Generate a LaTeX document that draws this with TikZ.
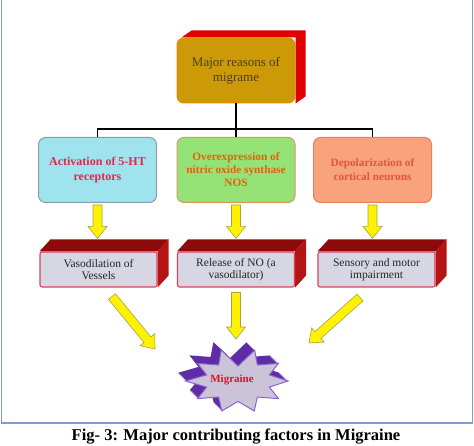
\documentclass[tikz,border=0pt]{standalone}
\usepackage{fontspec}
\setmainfont{Liberation Serif}
\usetikzlibrary{calc,backgrounds}

\definecolor{goldbox}{HTML}{CC9A06}
\definecolor{goldedge}{HTML}{E68A00}
\definecolor{goldtext}{HTML}{4A3F1E}
\definecolor{goldside}{HTML}{E00000}
\definecolor{cyanbox}{HTML}{9FE3EE}
\definecolor{cyanedge}{HTML}{8C9CA8}
\definecolor{actred}{HTML}{E0284A}
\definecolor{greenbox}{HTML}{95E276}
\definecolor{greenedge}{HTML}{D49A5A}
\definecolor{overorange}{HTML}{E2620E}
\definecolor{salmonbox}{HTML}{F9A27E}
\definecolor{salmonedge}{HTML}{E8805A}
\definecolor{depred}{HTML}{E0573A}
\definecolor{effectface}{HTML}{D6D7E3}
\definecolor{effectedge}{HTML}{E0405A}
\definecolor{effecttop}{HTML}{8C0A0A}
\definecolor{effectside}{HTML}{B51414}
\definecolor{yellowedge}{HTML}{A3A34A}
\definecolor{framecol}{HTML}{7F9DCC}
\definecolor{burstside}{HTML}{5E2CA5}
\definecolor{burstface}{HTML}{CBC4D8}
\definecolor{burstedge}{HTML}{8A62D0}
\definecolor{migred}{HTML}{E01020}

% block arrow from #1 to #2
\newcommand{\blockarrow}[2]{%
  \coordinate (hb) at ($(#2)!12pt!(#1)$);
  \filldraw[yblock] ($(#1)!4.5pt!90:(#2)$) -- ($(hb)!4.5pt!-90:(#1)$) -- ($(hb)!9.5pt!-90:(#1)$) -- (#2)
    -- ($(hb)!9.5pt!90:(#1)$) -- ($(hb)!4.5pt!90:(#1)$) -- ($(#1)!4.5pt!-90:(#2)$) -- cycle;
}

% outline of the burst
\newcommand{\burstpath}{(0:1) -- (18:0.66) -- (36:1.0) -- (54:0.66) -- (72:1.05) -- (90:0.68)
  -- (108:1.05) -- (126:0.66) -- (144:1.0) -- (162:0.66) -- (180:1.05) -- (198:0.66)
  -- (216:1.0) -- (234:0.66) -- (252:1.08) -- (270:0.5) -- (288:1.08) -- (306:0.66)
  -- (324:1.0) -- (342:0.66) -- cycle}

\begin{document}
\begin{tikzpicture}[x=1pt,y=-1pt,
  base/.style={rounded corners=7pt, minimum width=118pt, minimum height=65pt, align=center, inner sep=2pt, line width=1pt},
  causebox/.style={base, font=\fontsize{12}{14.5}\selectfont\bfseries},
  effectbox/.style={rectangle, rounded corners=2pt, minimum width=117pt, minimum height=35pt, align=center,
    inner sep=1pt, fill=effectface, draw=effectedge, line width=1.1pt, font=\fontsize{11.5}{12.5}\selectfont, text=black!85},
  yblock/.style={fill=yellow, draw=yellowedge, line width=0.6pt},
  link/.style={draw=black, line width=1.2pt},
]
  \useasboundingbox (0,0) rectangle (474,446);

  % Frame
  \draw[framecol, line width=1.8pt] (1.5,0) -- (1.5,423) -- (472.5,423) -- (472.5,0);

  % Top box
  \node[base, fill=goldbox, draw=goldedge, text=goldtext, font=\fontsize{13}{15}\selectfont] (major) at (236,70.5) {Major reasons of\\migrame};

  % Causes
  \node[causebox, fill=cyanbox, draw=cyanedge, text=actred] (act) at (97.5,170) {Activation of 5-HT\\receptors};
  \node[causebox, fill=greenbox, draw=greenedge, text=overorange, font=\fontsize{11.3}{13}\selectfont\bfseries] (over) at (236,170) {Overexpression of\\nitric oxide synthase\\NOS};
  \node[causebox, fill=salmonbox, draw=salmonedge, text=depred, font=\fontsize{11.3}{14}\selectfont\bfseries] (dep) at (372.5,170) {Depolarization of\\cortical neurons};

  % Tree lines
  \coordinate (split) at (236,129);
  \draw[link] (major.south) -- (split);
  \draw[link] (act.north) |- (split) -| (dep.north);
  \draw[link] (split) -- (over.north);

  % Effects
  \node[effectbox] (vaso) at (98.5,269.5) {Vasodilation of\\Vessels};
  \node[effectbox] (rel) at (236,269.5) {Release of NO (a\\vasodilator)};
  \node[effectbox] (sens) at (376.5,269.5) {Sensory and motor\\impairment};

  % 3D sides
  \begin{scope}[on background layer]
    \fill[goldside] ($(major.north west)+(5,0)$) -- ++(10,-7) -- ($(major.north east)+(10,-7)$)
      -- ($(major.south east)+(10,-7)$) -- (major.south east) -- (major.north east) -- cycle;
    \foreach \n in {vaso,rel,sens} {
      \fill[effecttop] (\n.north west) -- ++(11,-12) -- ($(\n.north east)+(11,-12)$) -- (\n.north east) -- cycle;
      \fill[effectside] (\n.north east) -- ++(11,-12) -- ($(\n.south east)+(11,-12)$) -- (\n.south east) -- cycle;
    }
  \end{scope}

  % Migraine burst
  \begin{scope}[shift={(238,381)}, x=50pt, y=-30pt]
    \foreach \s in {8,...,1}
      \fill[burstside, shift={(-\s pt,\s pt)}] \burstpath;
    \filldraw[fill=burstface, draw=burstedge, line width=1pt] \burstpath;
  \end{scope}
  \node[text=migred, font=\fontsize{11}{13}\selectfont\bfseries] (mig) at (232,380) {Migraine};

  % Yellow arrows
  \foreach \a/\b in {act/vaso, over/rel, dep/sens} {
    \coordinate (\a-out) at ($(\a.south)+(0,2)$);
    \coordinate (\b-in) at ($(\a.south |- \b.north)+(0,-13)$);
    \blockarrow{\a-out}{\b-in}
  }
  \coordinate (vaso-out) at ($(vaso.south)+(13.5,9)$);
  \coordinate (rel-out) at ($(rel.south)+(0,5)$);
  \coordinate (sens-out) at ($(sens.south)+(-16.5,10)$);
  \coordinate (mig-l) at ($(mig)+(-77,-31)$);
  \coordinate (mig-m) at ($(mig -| rel.south)+(0,-41)$);
  \coordinate (mig-r) at ($(mig)+(77,-37)$);
  \blockarrow{vaso-out}{mig-l}
  \blockarrow{rel-out}{mig-m}
  \blockarrow{sens-out}{mig-r}

  % Caption
  \node[font=\fontsize{16.5}{19}\selectfont\bfseries] (caption) at (236,437) {Fig- 3: Major contributing factors in Migraine};
\end{tikzpicture}
\end{document}
